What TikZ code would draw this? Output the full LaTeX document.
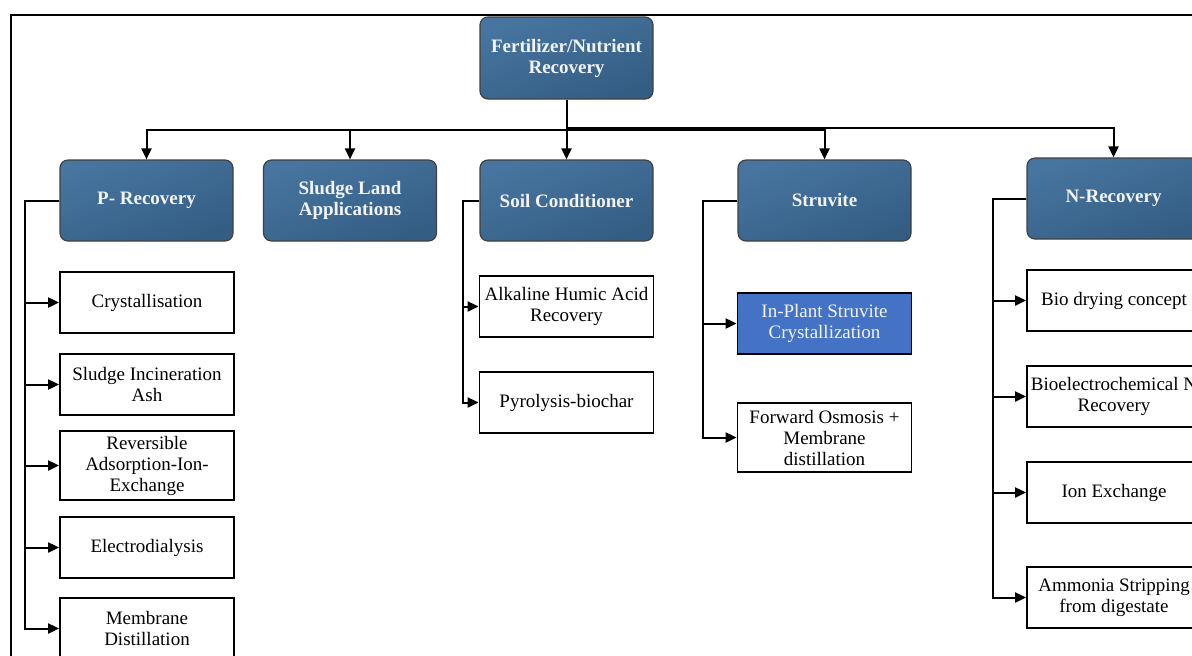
\documentclass[tikz,border=0pt]{standalone}
\usepackage{fontspec}
\setmainfont{Liberation Serif}
\usetikzlibrary{arrows.meta}
\definecolor{hdtop}{HTML}{47759F}
\definecolor{hdbot}{HTML}{345D84}
\definecolor{hlblue}{HTML}{4472C4}
\definecolor{hdtext}{HTML}{F2F4F7}
\begin{document}
\begin{tikzpicture}[x=0.5pt,y=-0.5pt,
  txt/.style={font=\fontsize{9.5}{10.5}\selectfont, align=center},
  header/.style={txt, rectangle, rounded corners=4pt, draw=black!75, line width=0.6pt,
    top color=hdtop, bottom color=hdbot, shading angle=20, text=hdtext,
    font=\bfseries\fontsize{9.5}{10.5}\selectfont,
    minimum width=86.5pt, minimum height=40.5pt, inner sep=1pt},
  item/.style={txt, rectangle, draw=black, line width=0.9pt, fill=white,
    minimum width=87pt, minimum height=30.5pt, inner sep=1pt},
  tall/.style={minimum height=34.5pt},
  highlight/.style={fill=hlblue, text=hdtext},
  arr/.style={line width=1pt, -{Triangle[length=5.5pt,width=5pt]}}
]
\clip (0,0) rectangle (1192,655);

% outer frame
\draw[line width=1.25pt] (11,700) -- (11,15) -- (1250,15) -- (1250,700);

% root and first level
\node[header, minimum height=41pt] (top) at (566.5,58) {Fertilizer/Nutrient\\Recovery};
\node[header] (prec)   at (146.5,200.5) {P- Recovery};
\node[header] (sludge) at (350,200.5)   {Sludge Land\\Applications};
\node[header] (soil)   at (566.5,200.5) {Soil Conditioner};
\node[header] (struv)  at (824.5,200.5) {Struvite};
\node[header] (nrec)   at (1113.5,198.5) {N-Recovery};

% P-recovery branch
\node[item] (cryst) at (147,302.5) {Crystallisation};
\node[item] (ash)   at (147,384.5) {Sludge Incineration\\Ash};
\node[item, tall] (raie) at (147,465.5) {Reversible\\Adsorption-Ion-\\Exchange};
\node[item] (edial) at (147,547.5) {Electrodialysis};
\node[item] (mdist) at (147,628.5) {Membrane\\Distillation};

% soil conditioner branch
\node[item] (humic) at (566.5,306.5) {Alkaline Humic Acid\\Recovery};
\node[item] (pyro)  at (566.5,402.5) {Pyrolysis-biochar};

% struvite branch
\node[item, highlight] (inplant) at (824.5,323.5) {In-Plant Struvite\\Crystallization};
\node[item, tall] (fosm) at (824.5,437.5) {Forward Osmosis +\\Membrane\\distillation};

% N-recovery branch
\node[item] (biodry) at (1114,300.5) {Bio drying concept};
\node[item] (bioel)  at (1114,396.5) {Bioelectrochemical N\\Recovery};
\node[item] (ionex)  at (1114,492.5) {Ion Exchange};
\node[item] (ammon)  at (1114,597.5) {Ammonia Stripping\\from digestate};

% bus lines below the root
\coordinate (busL) at (566.5,129.5);
\coordinate (busR) at (566.5,127.5);
\draw[arr] (top.south) -- (soil.north);
\draw[arr] (busL) -| (prec.north);
\draw[arr] (busL) -| (sludge.north);
\draw[arr] (busL) -| (struv.north);
\draw[arr] (busR) -| (nrec.north);

% spines of each branch
\coordinate (pspine) at (25,200.5);
\coordinate (sspine) at (463,200.5);
\coordinate (tspine) at (703,200.5);
\coordinate (nspine) at (993,198.5);

\foreach \c in {cryst,ash,raie,edial,mdist}
  \draw[arr] (prec.west) -- (pspine) |- (\c.west);
\foreach \c in {humic,pyro}
  \draw[arr] (soil.west) -- (sspine) |- (\c.west);
\foreach \c in {inplant,fosm}
  \draw[arr] (struv.west) -- (tspine) |- (\c.west);
\foreach \c in {biodry,bioel,ionex,ammon}
  \draw[arr] (nrec.west) -- (nspine) |- (\c.west);
\end{tikzpicture}
\end{document}
